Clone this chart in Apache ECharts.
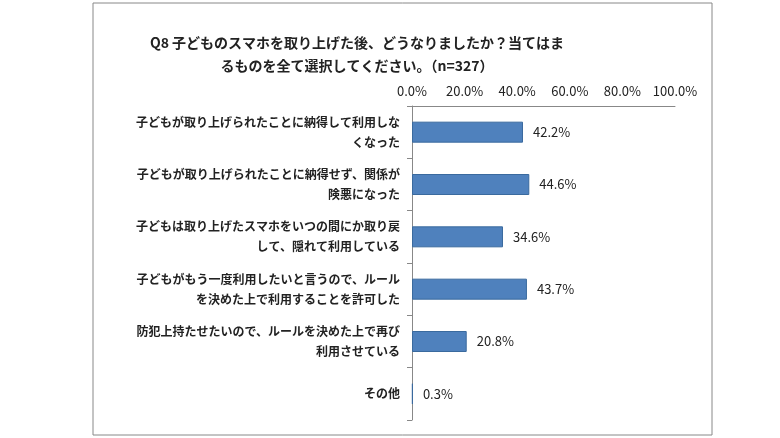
<!DOCTYPE html><html><head><meta charset="utf-8"><script src="https://cdn.jsdelivr.net/npm/echarts@6/dist/echarts.min.js"></script>
<style>body{margin:0;background:#fff}#c{width:780px;height:438px}</style></head><body><div id="c"></div><script>
const categories=["子どもが取り上げられたことに納得して利用しな\nくなった","子どもが取り上げられたことに納得せず、関係が\n険悪になった","子どもは取り上げたスマホをいつの間にか取り戻\nして、隠れて利用している","子どもがもう一度利用したいと言うので、ルール\nを決めた上で利用することを許可した","防犯上持たせたいので、ルールを決めた上で再び\n利用させている","その他"];
const values=[42.2,44.6,34.6,43.7,20.8,0.3];
const titleText="Q8 子どものスマホを取り上げた後、どうなりましたか？当てはま\nるものを全て選択してください。（n=327）";
const F='"Noto Sans CJK JP","Noto Sans",sans-serif';
const c=echarts.init(document.getElementById('c'));
c.setOption({animation:false,
graphic:[{type:'rect',shape:{x:93,y:3,width:619,height:432},style:{fill:'none',stroke:'#888',lineWidth:1}}],
title:{text:titleText,left:352,textAlign:'center',top:26,textStyle:{fontFamily:F,fontSize:14,fontWeight:'bold',color:'#222',lineHeight:23}},
grid:{left:412,right:105,top:106,bottom:18},
xAxis:{type:'value',position:'top',min:0,max:100,interval:20,splitLine:{show:false},axisLine:{show:true,lineStyle:{color:'#888'}},axisTick:{show:false},
axisLabel:{formatter:v=>v.toFixed(1)+'%',fontFamily:F,fontSize:13,color:'#222',margin:8}},
yAxis:{type:'category',inverse:true,data:categories,axisLine:{lineStyle:{color:'#888'}},axisTick:{show:true,lineStyle:{color:'#888'}},
axisLabel:{fontFamily:F,fontSize:12,fontWeight:'bold',color:'#222',lineHeight:20,margin:12,align:'right'}},
series:[{type:'bar',data:values,barWidth:21,itemStyle:{color:'#4F81BD',borderColor:'#3A6A9E',borderWidth:1},
label:{show:true,position:'right',distance:10,formatter:p=>p.value.toFixed(1)+'%',fontFamily:F,fontSize:13,color:'#222'}}]});
</script></body></html>
